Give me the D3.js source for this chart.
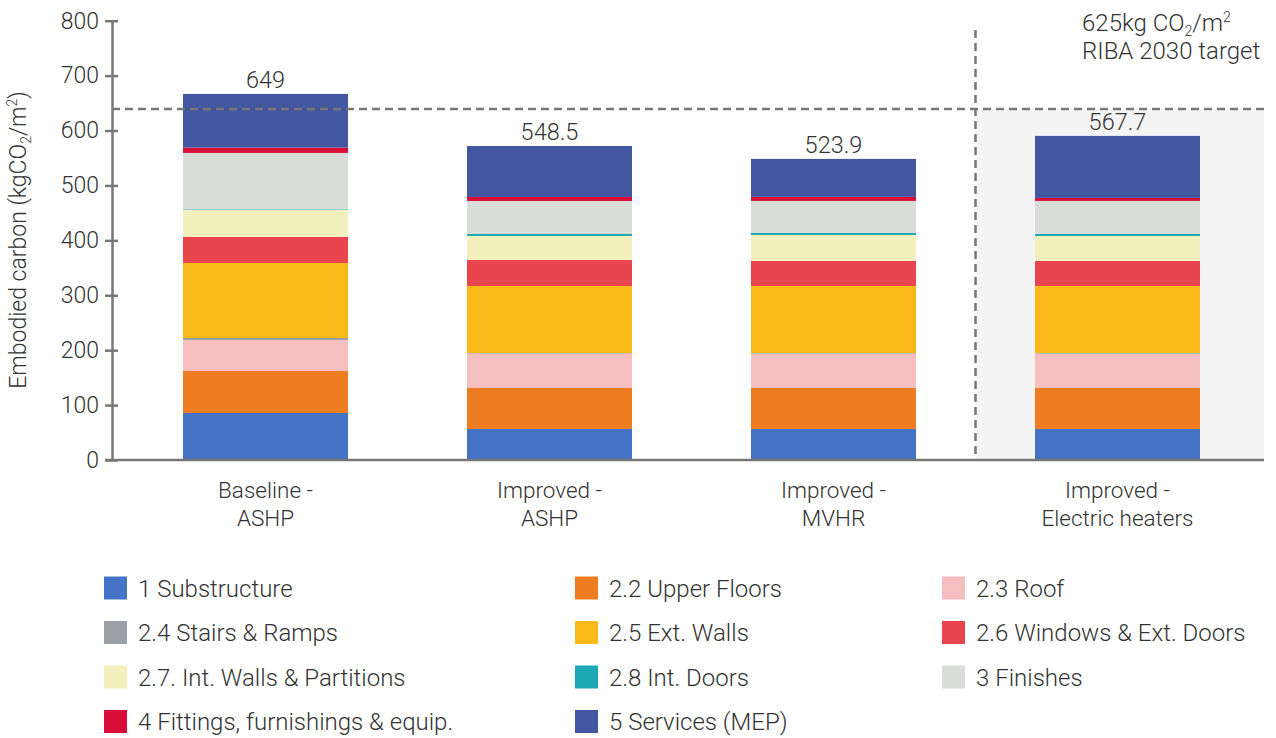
<!DOCTYPE html>
<html>
<head>
<meta charset="utf-8">
<script src="https://cdn.jsdelivr.net/npm/d3@7"></script>
<style>
  html, body { margin: 0; padding: 0; background: #fff; }
  svg text { font-family: Roboto, "Open Sans", sans-serif; font-weight: 300; fill: #333; }
</style>
</head>
<body>
<svg id="chart" width="1276" height="738"></svg>
<script>
// ---- data ----
const categories = ["Baseline - ASHP", "Improved - ASHP", "Improved - MVHR", "Improved - Electric heaters"];
const categoryLines = [["Baseline -", "ASHP"], ["Improved -", "ASHP"], ["Improved -", "MVHR"], ["Improved -", "Electric heaters"]];
const totalLabels = ["649", "548.5", "523.9", "567.7"];

const seriesNames = [
  "1 Substructure", "2.2 Upper Floors", "2.3 Roof", "2.4 Stairs & Ramps", "2.5 Ext. Walls",
  "2.6 Windows & Ext. Doors", "2.7. Int. Walls & Partitions", "2.8 Int. Doors", "3 Finishes",
  "4 Fittings, furnishings & equip.", "5 Services (MEP)"
];
const seriesColors = [
  "#4472C4", "#EE7D22", "#F5BEC0", "#9AA0A6", "#F9B918",
  "#E8454F", "#F4F0BD", "#1AA9B5", "#D9DDD8", "#D90E38", "#4356A0"
];
const substructure = [85.6, 56.5, 56.5, 56.5];
const upperFloors  = [76.5, 74.6, 74.6, 74.6];
const roof         = [56.5, 62.8, 62.8, 62.8];
const stairs       = [3.6, 1.0, 1.0, 1.0];
const extWalls     = [136.6, 122.0, 122.0, 122.0];
const windows      = [47.4, 47.4, 45.6, 45.6];
const intWalls     = [50.0, 43.7, 47.3, 45.5];
const intDoors     = [1.0, 3.6, 3.7, 3.7];
const finishes     = [102.0, 60.1, 58.3, 60.1];
const fittings     = [9.7, 7.3, 7.3, 5.4];
const services     = [97.8, 92.8, 69.2, 113.0];
const seriesValues = [substructure, upperFloors, roof, stairs, extWalls, windows, intWalls, intDoors, finishes, fittings, services];

const yTicks = [0, 100, 200, 300, 400, 500, 600, 700, 800];
const targetLineValue = 639;

// ---- build ----
const svg = d3.select("#chart");
const axisColor = "#777";

const x = d3.scaleBand().domain(categories).range([123.5, 1259.5]).paddingInner(0.419).paddingOuter(0.2095);
const y = d3.scaleLinear().domain([0, 800]).range([460, 20.7]);

const axisLeftX = 112;
const plotRight = 1264;

const rows = categories.map((c, i) => {
  const r = { cat: c };
  seriesNames.forEach((s, j) => r[s] = seriesValues[j][i]);
  return r;
});
const stacked = d3.stack().keys(seriesNames)(rows);

// shaded area for last category
const sepX = (x(categories[2]) + x.bandwidth() + x(categories[3])) / 2;
svg.append("rect")
  .attr("x", sepX).attr("y", y(targetLineValue))
  .attr("width", plotRight - sepX).attr("height", y(0) - y(targetLineValue))
  .attr("fill", "#F4F4F4");

// bars
svg.append("g").selectAll("g").data(stacked).join("g")
  .attr("fill", (d, i) => seriesColors[i])
  .selectAll("rect").data(d => d).join("rect")
  .attr("x", d => x(d.data.cat))
  .attr("width", x.bandwidth())
  .attr("y", d => y(d[1]))
  .attr("height", d => y(d[0]) - y(d[1]));

// target line (horizontal)
svg.append("line")
  .attr("x1", axisLeftX).attr("x2", plotRight)
  .attr("y1", y(targetLineValue)).attr("y2", y(targetLineValue))
  .attr("stroke", axisColor).attr("stroke-width", 2.5).attr("stroke-dasharray", "8,5");

// vertical separator
svg.append("line")
  .attr("x1", sepX).attr("x2", sepX)
  .attr("y1", 30).attr("y2", y(0))
  .attr("stroke", axisColor).attr("stroke-width", 2.5).attr("stroke-dasharray", "8,5");

// y axis
const yAxis = d3.axisLeft(y).tickValues(yTicks).tickSizeInner(7).tickSizeOuter(0).tickPadding(6);
const gy = svg.append("g").attr("transform", `translate(${axisLeftX},0)`).call(yAxis);
gy.select(".domain").attr("stroke", axisColor).attr("stroke-width", 2.5);
gy.selectAll(".tick line").attr("stroke", axisColor).attr("stroke-width", 2.5).attr("x1", 6);
gy.selectAll(".tick text").attr("font-size", 23).attr("fill", "#333")
  .style("font-family", "Roboto, sans-serif").style("font-weight", 300);

// x axis line
svg.append("line")
  .attr("x1", axisLeftX - 7).attr("x2", plotRight)
  .attr("y1", y(0)).attr("y2", y(0))
  .attr("stroke", axisColor).attr("stroke-width", 2.5);

// x labels
const xl = svg.append("g").selectAll("text").data(categories).join("text")
  .attr("x", d => x(d) + x.bandwidth() / 2)
  .attr("text-anchor", "middle")
  .attr("font-size", 22.5);
xl.each(function(d, i) {
  const t = d3.select(this);
  categoryLines[i].forEach((ln, k) => {
    t.append("tspan").attr("x", x(d) + x.bandwidth() / 2).attr("y", 498 + k * 28).text(ln);
  });
});

// total labels
svg.append("g").selectAll("text").data(categories).join("text")
  .attr("x", d => x(d) + x.bandwidth() / 2)
  .attr("y", (d, i) => y(stacked[stacked.length - 1][i][1]) - 6)
  .attr("text-anchor", "middle")
  .attr("font-size", 23.5)
  .text((d, i) => totalLabels[i]);

// target annotation
const ann = svg.append("text").attr("x", 1082).attr("y", 30.5).attr("font-size", 24);
ann.append("tspan").text("625kg CO");
ann.append("tspan").attr("font-size", 14).attr("dy", 5).text("2");
ann.append("tspan").attr("dy", -5).text("/m");
ann.append("tspan").attr("font-size", 14).attr("dy", -9).text("2");
svg.append("text").attr("x", 1082).attr("y", 58.5).attr("font-size", 24).text("RIBA 2030 target");

// y axis title
const yt = svg.append("text")
  .attr("transform", "translate(26,240) rotate(-90)")
  .attr("text-anchor", "middle")
  .attr("font-size", 23);
yt.append("tspan").text("Embodied carbon (kgCO");
yt.append("tspan").attr("font-size", 14).attr("dy", 5).text("2");
yt.append("tspan").attr("dy", -5).text("/m");
yt.append("tspan").attr("font-size", 14).attr("dy", -9).text("2");
yt.append("tspan").attr("dy", 9).text(")");

// legend
const legendCols = [104, 575, 942];
const legendRow0 = 588, legendRowStep = 44.5;
const lg = svg.append("g").selectAll("g").data(seriesNames).join("g")
  .attr("transform", (d, i) => `translate(${legendCols[i % 3]},${legendRow0 + Math.floor(i / 3) * legendRowStep})`);
lg.append("rect").attr("x", 0).attr("y", -11.5).attr("width", 23).attr("height", 23)
  .attr("fill", (d, i) => seriesColors[i]);
lg.append("text").attr("x", 34).attr("y", 8.5).attr("font-size", 24).text(d => d);
</script>
</body>
</html>
